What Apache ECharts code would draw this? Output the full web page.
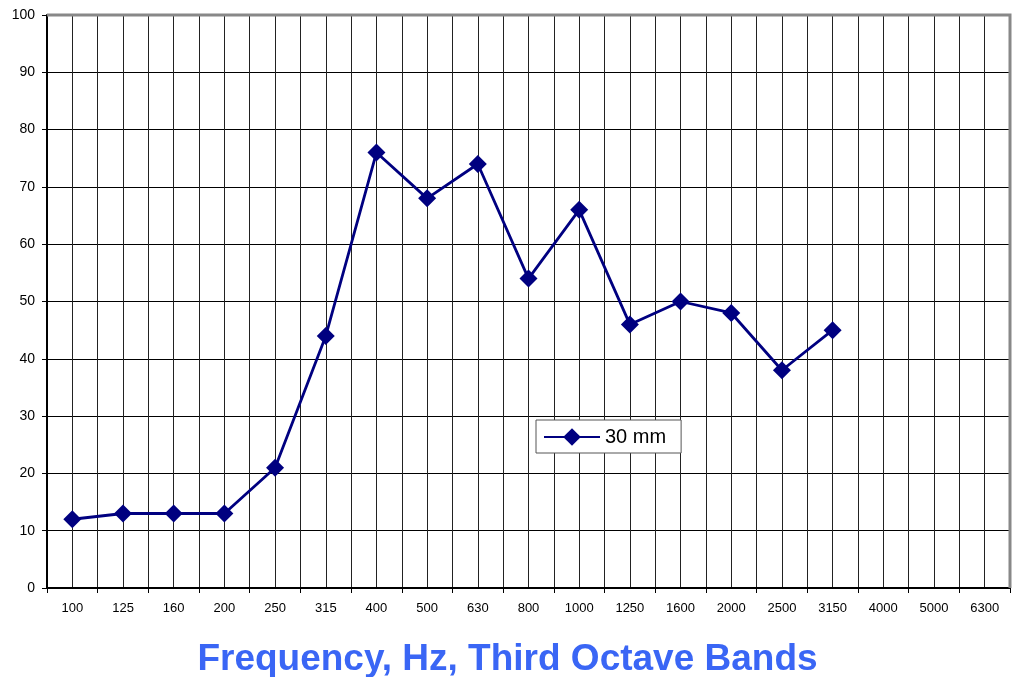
<!DOCTYPE html>
<html style="height: 100%">
<head>
<meta charset="utf-8">
<script src="https://cdn.jsdelivr.net/npm/echarts/dist/echarts.min.js"></script>
</head>
<body style="height: 100%; margin: 0; background: #fff">
<div id="container" style="width: 1015px; height: 677px"></div>
<script>
// third octave bands
var bands = ['100', '125', '160', '200', '250', '315', '400', '500', '630', '800',
  '1000', '1250', '1600', '2000', '2500', '3150', '4000', '5000', '6300'];
// 30 mm series (no data above 3150)
var mm30 = [12, 13, 13, 13, 21, 44, 76, 68, 74, 54, 66, 46, 50, 48, 38, 45, null, null, null];

var myChart = echarts.init(document.getElementById('container'));

var option = {
  animation: false,
  textStyle: { fontFamily: 'Liberation Sans, Arial, sans-serif' },
  grid: { left: 47, right: 5, top: 15, bottom: 89, containLabel: false },
  title: {
    text: 'Frequency, Hz, Third Octave Bands',
    left: 'center',
    top: 636,
    textStyle: { color: '#3a66f5', fontSize: 37, fontWeight: 'bold', fontFamily: 'Liberation Sans, Arial, sans-serif' }
  },
  legend: {
    data: ['30 mm'],
    left: 536,
    top: 420,
    padding: [7, 15, 6, 7],
    backgroundColor: '#fff',
    borderColor: '#555',
    borderWidth: 1,
    borderRadius: 0,
    itemWidth: 56,
    itemHeight: 22,
    itemGap: 5,
    textStyle: { fontSize: 20, color: '#000' }
  },
  xAxis: [{
    type: 'category',
    data: bands,
    boundaryGap: true,
    axisLine: { lineStyle: { color: '#000', width: 2 } },
    axisTick: { show: true, length: 5, lineStyle: { color: '#000' } },
    axisLabel: { fontSize: 13, color: '#000', margin: 14 },
    splitLine: { show: false },
    z: 3
  }, {
    // helper axis for half-band vertical grid lines
    type: 'value',
    min: 0,
    max: 38,
    interval: 1,
    position: 'top',
    axisLine: { show: false },
    axisTick: { show: false },
    axisLabel: { show: false },
    splitLine: { show: true, lineStyle: { color: '#222', width: 1 } }
  }],
  yAxis: {
    type: 'value',
    min: 0,
    max: 100,
    interval: 10,
    axisLine: { show: true, lineStyle: { color: '#000', width: 2 } },
    axisTick: { show: true, length: 5, lineStyle: { color: '#000' } },
    axisLabel: { fontSize: 14, color: '#000', margin: 12 },
    splitLine: { show: true, lineStyle: { color: '#000', width: 1 } }
  },
  series: [{
    name: '30 mm',
    type: 'line',
    data: mm30,
    symbol: 'diamond',
    symbolSize: 18,
    connectNulls: false,
    itemStyle: { color: '#000080' },
    lineStyle: { color: '#000080', width: 2.8 },
    z: 5
  }],
  graphic: [{
    type: 'polyline',
    shape: { points: [[47, 15], [1010, 15], [1010, 588]] },
    style: { stroke: '#888', lineWidth: 3, fill: null },
    z: 4
  }]
};

myChart.setOption(option);
</script>
</body>
</html>
